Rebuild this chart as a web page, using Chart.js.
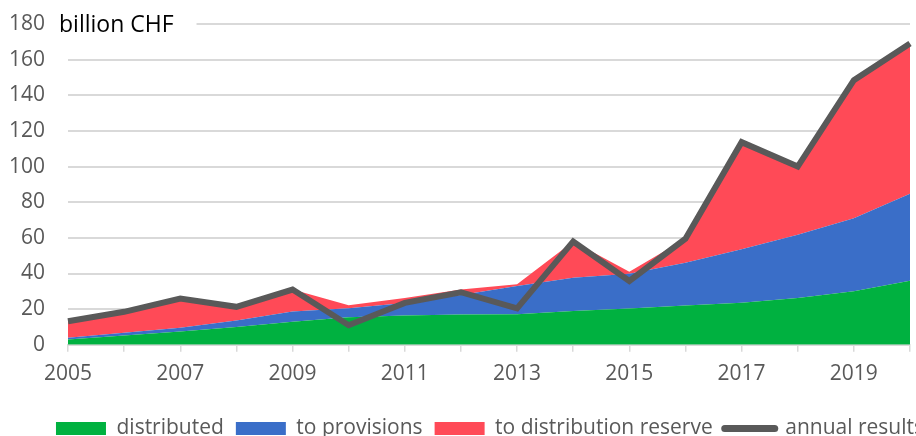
<!DOCTYPE html>
<html>
<head>
<meta charset="utf-8">
<script src="https://cdn.jsdelivr.net/npm/chart.js@4/dist/chart.umd.min.js"></script>
<style>
html,body{margin:0;padding:0;overflow:hidden;background:#ffffff;}
#wrap{position:relative;width:920px;height:436px;}
</style>
</head>
<body>
<div id="wrap"><canvas id="c" width="920" height="436"></canvas></div>
<script>
const years = ['2005','2006','2007','2008','2009','2010','2011','2012','2013','2014','2015','2016','2017','2018','2019','2020'];
const xTickLabels = ['2005','','2007','','2009','','2011','','2013','','2015','','2017','','2019',''];
const distributed = [3, 5.2, 7.4, 10, 12.9, 15.5, 16.5, 17, 17.2, 19, 20.3, 22, 23.6, 26.2, 30, 36];
const toProvisions = [1, 1.5, 2.2, 3.6, 5.8, 5, 7, 11, 15.8, 18.6, 19.6, 24, 30, 35.5, 41, 48.7];
const toReserve = [9.2, 11.8, 16.4, 7.7, 12.3, 1.7, 2.8, 3, 1, 20.4, 1.1, 13.5, 60.1, 38.3, 77.5, 84.3];
const annualResults = [13.2, 18.5, 26, 21.3, 31, 11, 23.5, 29.5, 20.4, 58, 35.8, 59.5, 113.7, 100, 148.5, 169];
const seriesNames = ['distributed', 'to provisions', 'to distribution reserve', 'annual results'];
const unitText = 'billion CHF';
const yMin = 0, yMax = 180, yStep = 20;

const FONT = '"Open Sans", "DejaVu Sans", sans-serif';
const GRID = '#d9d9d9';
const TXT = '#595959';

const unitLabel = {
  id: 'unitLabel',
  beforeDatasetsDraw(chart) {
    const ctx = chart.ctx;
    const a = chart.chartArea;
    ctx.save();
    ctx.font = '23px ' + FONT;
    const w = ctx.measureText(unitText).width;
    ctx.fillStyle = '#ffffff';
    ctx.fillRect(a.left - 12, a.top - 14, w + 26, 28);
    ctx.fillStyle = '#000000';
    ctx.textBaseline = 'middle';
    ctx.textAlign = 'left';
    ctx.fillText(unitText, a.left - 9, a.top + 1);
    ctx.restore();
  }
};

const legendShift = {
  id: 'legendShift',
  afterLayout(chart) {
    const l = chart.legend;
    if (l) { l.left += 30; l.right += 30; l.top += 13; l.bottom += 13; }
  }
};

new Chart(document.getElementById('c'), {
  type: 'line',
  data: {
    labels: years,
    datasets: [
      { label: seriesNames[0], data: distributed, backgroundColor: '#00b140', borderWidth: 0, pointRadius: 0, fill: 'origin', order: 1, stack: 'alloc' },
      { label: seriesNames[1], data: toProvisions, backgroundColor: '#3a6ec8', borderWidth: 0, pointRadius: 0, fill: '-1', order: 1, stack: 'alloc' },
      { label: seriesNames[2], data: toReserve, backgroundColor: '#ff4a57', borderWidth: 0, pointRadius: 0, fill: '-1', order: 1, stack: 'alloc' },
      { label: seriesNames[3], data: annualResults, borderColor: '#595959', backgroundColor: '#595959', borderWidth: 6, pointRadius: 0, fill: false, order: 0, stack: 'results', tension: 0 }
    ]
  },
  options: {
    responsive: false,
    animation: false,
    devicePixelRatio: 1,
    layout: { padding: { top: 24, left: 0, right: 0, bottom: 0 } },
    plugins: {
      tooltip: { enabled: false },
      legend: {
        position: 'bottom',
        labels: {
          sort: (a, b) => a.datasetIndex - b.datasetIndex,
          usePointStyle: true,
          pointStyleWidth: 50,
          boxHeight: 13,
          padding: 12,
          color: TXT,
          font: { family: FONT, size: 21 },
          generateLabels(chart) {
            const items = Chart.defaults.plugins.legend.labels.generateLabels(chart);
            items.forEach(it => {
              const ds = chart.data.datasets[it.datasetIndex];
              if (it.datasetIndex === 3) {
                it.pointStyle = 'line';
                it.lineWidth = 7;
                it.strokeStyle = '#595959';
                it.fillStyle = '#595959';
                it.lineCap = 'round';
              } else {
                it.pointStyle = 'rect';
                it.lineWidth = 0;
                it.fillStyle = ds.backgroundColor;
                it.strokeStyle = ds.backgroundColor;
              }
            });
            return items;
          }
        }
      }
    },
    scales: {
      x: {
        type: 'category',
        offset: false,
        grid: { display: true, drawOnChartArea: false, drawTicks: true, tickLength: 7, color: GRID, lineWidth: 1.5 },
        border: { display: true, color: GRID, width: 2 },
        afterFit: (s) => { s.height -= 4; },
        ticks: {
          autoSkip: false, maxRotation: 0, padding: 10, color: TXT,
          font: { family: FONT, size: 21 },
          callback: (v, i) => xTickLabels[i]
        }
      },
      y: {
        stacked: true,
        min: yMin, max: yMax,
        grid: { color: GRID, lineWidth: 2, drawTicks: false },
        border: { display: false },
        afterFit: (s) => { s.width = 68; s.paddingTop = 0; s.paddingBottom = 0; },
        ticks: { stepSize: yStep, padding: 23, color: TXT, font: { family: FONT, size: 21 } }
      }
    }
  },
  plugins: [unitLabel, legendShift]
});
</script>
</body>
</html>
